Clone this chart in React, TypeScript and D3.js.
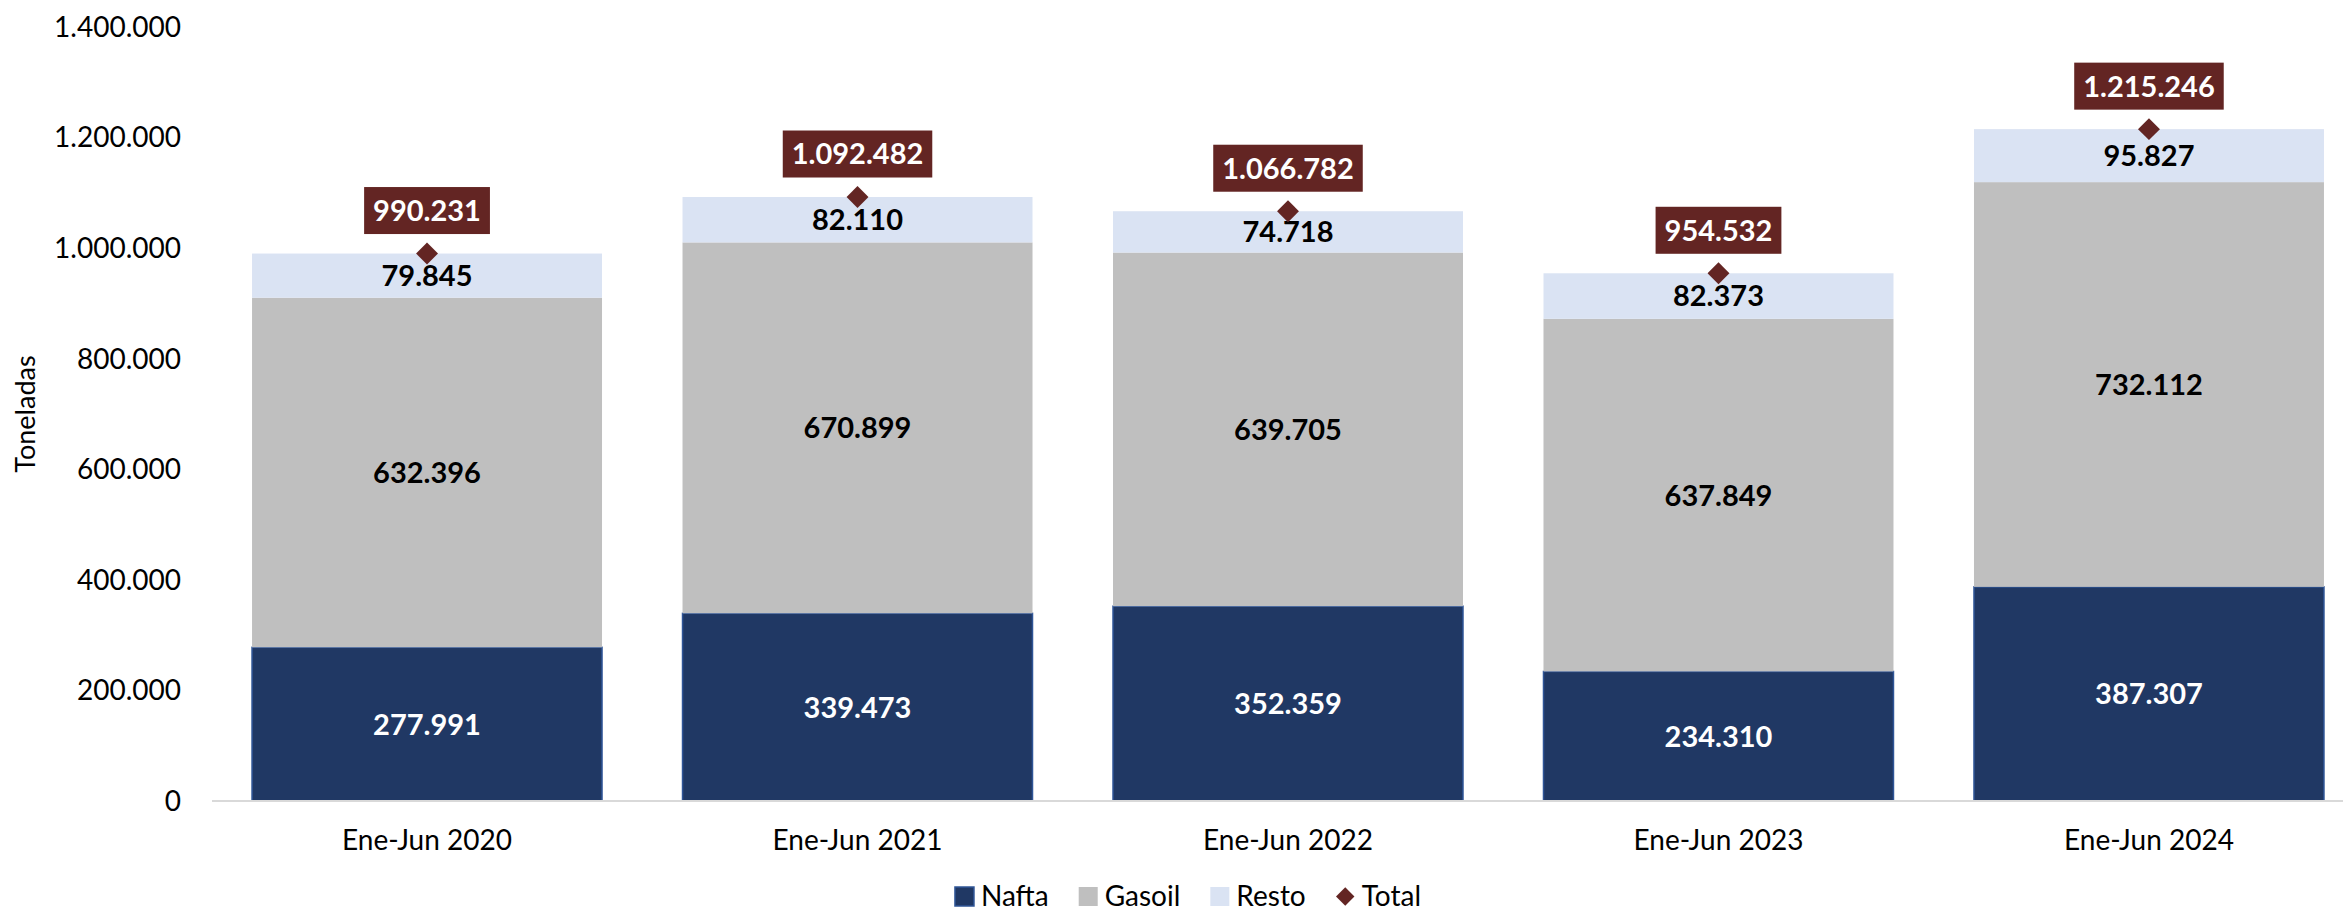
import { useEffect, useRef } from "react"
import * as d3 from "d3"

const categories = ["Ene-Jun 2020", "Ene-Jun 2021", "Ene-Jun 2022", "Ene-Jun 2023", "Ene-Jun 2024"]
const nafta = [277991, 339473, 352359, 234310, 387307]
const gasoil = [632396, 670899, 639705, 637849, 732112]
const resto = [79845, 82110, 74718, 82373, 95827]
const total = [990231, 1092482, 1066782, 954532, 1215246]
const yTicks = [0, 200000, 400000, 600000, 800000, 1000000, 1200000, 1400000]
const seriesKeys = ["Nafta", "Gasoil", "Resto"]

type Row = { cat: string; Nafta: number; Gasoil: number; Resto: number; Total: number }

const W = 2343
const H = 914
const FONT = "Lato, 'Open Sans', sans-serif"

const colors: Record<string, string> = {
  Nafta: "#203864",
  Gasoil: "#bfbfbf",
  Resto: "#dae3f3",
  Total: "#632523",
}
const labelColors: Record<string, string> = {
  Nafta: "#ffffff",
  Gasoil: "#000000",
  Resto: "#000000",
}

const fmt = d3
  .formatLocale({ decimal: ",", thousands: ".", grouping: [3], currency: ["$", ""] })
  .format(",d")

export default function App() {
  const svgRef = useRef<SVGSVGElement>(null)

  useEffect(() => {
    if (!svgRef.current) return
    const svg = d3.select(svgRef.current)
    svg.selectAll("*").remove()

    const rows: Row[] = categories.map((cat, i) => ({
      cat,
      Nafta: nafta[i],
      Gasoil: gasoil[i],
      Resto: resto[i],
      Total: total[i],
    }))

    const x = d3.scaleBand<string>().domain(categories).range([212, 2364]).paddingInner(0.187).paddingOuter(0.093)
    const y = d3.scaleLinear().domain([0, 1400000]).range([801, 27])

    const stack = d3.stack<Row>().keys(seriesKeys)
    const layers = stack(rows)

    // y axis labels
    svg
      .append("g")
      .selectAll("text")
      .data(yTicks)
      .enter()
      .append("text")
      .attr("x", 181)
      .attr("y", (d) => y(d))
      .attr("dy", "0.35em")
      .attr("text-anchor", "end")
      .style("font-family", FONT)
      .style("font-size", "28px")
      .style("fill", "#000")
      .text((d) => fmt(d))

    svg
      .append("text")
      .attr("transform", `translate(35, ${(y(0) + y(1400000)) / 2}) rotate(-90)`)
      .attr("text-anchor", "middle")
      .style("font-family", FONT)
      .style("font-size", "27px")
      .style("fill", "#000")
      .text("Toneladas")

    // bars
    const g = svg.append("g")
    layers.forEach((layer) => {
      const key = layer.key
      g.append("g")
        .selectAll("rect")
        .data(layer)
        .enter()
        .append("rect")
        .attr("x", (d) => x(d.data.cat)!)
        .attr("width", x.bandwidth())
        .attr("y", (d) => y(d[1]))
        .attr("height", (d) => y(d[0]) - y(d[1]))
        .style("fill", colors[key])
        .style("stroke", key === "Nafta" ? "#2f5597" : "none")
        .style("stroke-width", 1.5)
    })

    // baseline
    svg
      .append("line")
      .attr("x1", 212)
      .attr("x2", W)
      .attr("y1", y(0))
      .attr("y2", y(0))
      .style("stroke", "#d9d9d9")
      .style("stroke-width", 2)

    // segment labels
    layers.forEach((layer) => {
      const key = layer.key
      g.append("g")
        .selectAll("text")
        .data(layer)
        .enter()
        .append("text")
        .attr("x", (d) => x(d.data.cat)! + x.bandwidth() / 2)
        .attr("y", (d) => (y(d[0]) + y(d[1])) / 2)
        .attr("dy", "0.36em")
        .attr("text-anchor", "middle")
        .style("font-family", FONT)
        .style("font-size", "29px")
        .style("font-weight", "bold")
        .style("fill", labelColors[key])
        .text((d) => fmt(d.data[key as keyof Row] as number))
    })

    // total markers
    const diamond = d3.symbol().type(d3.symbolSquare).size(240)
    svg
      .append("g")
      .selectAll("path")
      .data(rows)
      .enter()
      .append("path")
      .attr("d", diamond()!)
      .attr("transform", (d) => `translate(${x(d.cat)! + x.bandwidth() / 2}, ${y(d.Total)}) rotate(45)`)
      .style("fill", colors.Total)

    // total labels in boxes
    const tg = svg
      .append("g")
      .selectAll("g")
      .data(rows)
      .enter()
      .append("g")
      .attr("transform", (d) => `translate(${x(d.cat)! + x.bandwidth() / 2}, ${y(d.Total) - 43})`)
    const rects = tg.append("rect").style("fill", colors.Total)
    const texts = tg
      .append("text")
      .attr("text-anchor", "middle")
      .attr("dy", "0.36em")
      .style("font-family", FONT)
      .style("font-size", "29px")
      .style("font-weight", "bold")
      .style("fill", "#fff")
      .text((d) => fmt(d.Total))
    texts.each(function (_, i) {
      const w = (this as SVGTextElement).getComputedTextLength() + 18
      d3.select(rects.nodes()[i])
        .attr("x", -w / 2)
        .attr("width", w)
        .attr("y", -23.5)
        .attr("height", 47)
    })

    // legend
    const legendKeys = [...seriesKeys, "Total"]
    const lg = svg.append("g")
    const items = lg
      .selectAll("g")
      .data(legendKeys)
      .enter()
      .append("g")
    items.each(function (k) {
      const it = d3.select(this)
      if (k === "Total") {
        it.append("path")
          .attr("d", d3.symbol().type(d3.symbolSquare).size(170)()!)
          .attr("transform", "translate(9.5, -9.5) rotate(45)")
          .style("fill", colors.Total)
      } else {
        it.append("rect")
          .attr("x", 0)
          .attr("y", -19)
          .attr("width", 19)
          .attr("height", 19)
          .style("fill", colors[k])
          .style("stroke", k === "Nafta" ? "#2f5597" : "none")
          .style("stroke-width", 1.5)
      }
      it.append("text")
        .attr("x", 26)
        .attr("y", 0)
        .style("font-family", FONT)
        .style("font-size", "28px")
        .style("fill", "#000")
        .text(k)
    })
    let cursor = 0
    const widths: number[] = []
    items.each(function () {
      const t = d3.select(this).select("text").node() as SVGTextElement
      widths.push(26 + t.getComputedTextLength())
    })
    const gap = 30
    const totalW = d3.sum(widths) + gap * (widths.length - 1)
    const startX = 1188 - totalW / 2
    items.attr("transform", (_, i) => {
      const tx = startX + cursor
      cursor += widths[i] + gap
      return `translate(${tx}, 906)`
    })

    // x axis labels
    svg
      .append("g")
      .selectAll("text")
      .data(categories)
      .enter()
      .append("text")
      .attr("x", (d) => x(d)! + x.bandwidth() / 2)
      .attr("y", 840)
      .attr("dy", "0.35em")
      .attr("text-anchor", "middle")
      .style("font-family", FONT)
      .style("font-size", "28px")
      .style("fill", "#000")
      .text((d) => d)
  }, [])

  return (
    <svg
      ref={svgRef}
      width={W}
      height={H}
      viewBox={`0 0 ${W} ${H}`}
      style={{ position: "absolute", left: 0, top: 0, background: "#fff", display: "block" }}
    />
  )
}
